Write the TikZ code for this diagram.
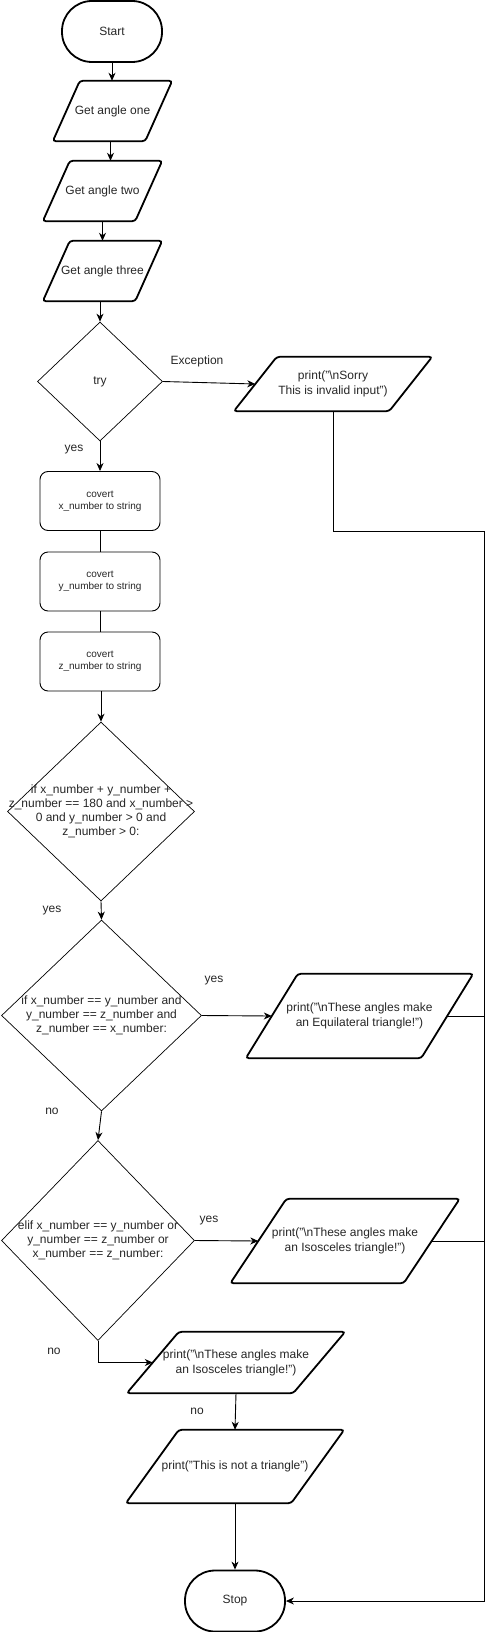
\documentclass[tikz,border=0pt]{standalone}
\usepackage{fontspec}
\setmainfont{Liberation Sans}
\usetikzlibrary{shapes.geometric,arrows.meta,calc}
\newcommand\fs[2]{\fontsize{#1}{#2}\selectfont}
\newcommand\bs{\textbackslash}
\newcommand\para[7]{%
  \node[ptext, minimum width=#4pt, minimum height=#5pt] (#1) at (#2,#3) {#7};
  \draw[pbox] ([xshift=#6pt/2]#1.north west) -- ([xshift=#6pt/2]#1.north east)
     -- ([xshift=-#6pt/2]#1.south east) -- ([xshift=-#6pt/2]#1.south west) -- cycle;}
\tikzset{
  ptext/.style={inner sep=0pt, align=center, font=\fs{12}{15}, text=black!85},
  pbox/.style={line width=1.8pt, rounded corners=3pt},
  term/.style={draw, line width=1.8pt, rounded corners=30pt, minimum width=100pt, minimum height=61pt, inner sep=0pt, font=\fs{12}{14}, text=black!85},
  dia/.style={draw, diamond, line width=0.7pt, inner sep=0pt},
  dtext/.style={align=center, font=\fs{12}{14}, inner sep=0pt, text=black!85},
  cbox/.style={draw, line width=0.9pt, rounded corners=8pt, minimum width=120pt, minimum height=59pt, inner sep=0pt, align=center, font=\fs{10}{12}, text=black!85},
  lbl/.style={font=\fs{12}{14}, inner sep=0pt, text=black!85},
  arr/.style={line width=0.9pt, -{Stealth[length=8pt,width=7pt,inset=2.5pt]}},
  ln/.style={line width=0.9pt}
}
\begin{document}
\begin{tikzpicture}[x=1pt,y=-1pt]
\useasboundingbox (0,0) rectangle (493,1632);
\node[term] (start) at (112,31.5) {Start};
\para{one}{112.5}{111}{92}{60}{27}{Get angle one}
\para{two}{102.5}{191}{92}{60}{27}{Get angle two}
\para{three}{102.5}{271}{92}{60}{27}{Get angle three}
\node[dia, minimum width=125pt, minimum height=119pt] (try) at (100,381.5) {};
\node[dtext] (trytxt) at (try) {try};
\para{sorry}{333}{384}{155}{54}{43}{print("\bs nSorry\\This is invalid input")}
\node[cbox] (b1) at (100,501) {covert\\x\_number to string};
\node[cbox] (b2) at (100,581.5) {covert\\y\_number to string};
\node[cbox] (b3) at (100,661.5) {covert\\z\_number to string};
\node[dia, minimum width=187pt, minimum height=179pt] (d2) at (101,811.5) {};
\node[dtext] (d2txt) at (d2) {if x\_number + y\_number +\\z\_number == 180 and x\_number >\\0 and y\_number > 0 and\\z\_number > 0:};
\node[dia, minimum width=200pt, minimum height=191pt] (d3) at (101.5,1015.5) {};
\node[dtext] (d3txt) at (d3) {if x\_number == y\_number and\\y\_number == z\_number and\\z\_number == x\_number:};
\para{equi}{359.5}{1016}{175}{84}{52}{print("\bs nThese angles make\\an Equilateral triangle!")}
\node[dia, minimum width=193pt, minimum height=200pt] (d4) at (98,1240.5) {};
\node[dtext] (d4txt) at (d4) {elif x\_number == y\_number or\\y\_number == z\_number or\\x\_number == z\_number:};
\para{iso1}{345}{1241}{173}{84}{56}{print("\bs nThese angles make\\an Isosceles triangle!")}
\para{iso2}{236}{1362.5}{166}{61}{52}{print("\bs nThese angles make\\an Isosceles triangle!")}
\para{nt}{235}{1466.5}{165}{73}{53}{print("This is not a triangle")}
\node[term] (stop) at (235,1601) {Stop};
\coordinate (rtop) at (484,531);
\coordinate (rbot) at (484,1601);
% labels
\node[lbl] (lexc) at (197,361) {Exception};
\node[lbl] (ly1) at (74,450) {yes};
\node[lbl] (ly2) at (52,911) {yes};
\node[lbl] (ly3) at (214,981) {yes};
\node[lbl] (ln1) at (52,1111) {no};
\node[lbl] (ly4) at (209,1221) {yes};
\node[lbl] (ln2) at (54,1351) {no};
\node[lbl] (ln3) at (197,1411) {no};
% connectors
\draw[arr] (start.south) -- (start.south |- one.north);
\draw[arr] ([xshift=-2pt]one.south) -- ([xshift=-2pt]one.south |- two.north);
\draw[arr] (two.south) -- (two.south |- three.north);
\draw[arr] (three.south -| try.north) -- (try.north);
\draw[arr] (try.east) -- (sorry.west);
\draw[arr] (try.south) -- (b1.north);
\draw[ln] (b1.south) -- (b2.north);
\draw[ln] (b2.south) -- (b3.north);
\draw[arr] (b3.south -| d2.north) -- (d2.north);
\draw[arr] (d2.south) -- (d3.north);
\draw[arr] (d3.east) -- (equi.west);
\draw[arr] (d3.south) -- (d4.north);
\draw[arr] (d4.east) -- (iso1.west);
\draw[arr] (d4.south) |- (iso2.west);
\draw[arr] (iso2.south) -- (nt.north);
\draw[arr] (nt.south) -- (stop.north);
\draw[ln] (equi.east) -- (equi.east -| rtop);
\draw[ln] (iso1.east) -- (iso1.east -| rtop);
\draw[arr] (sorry.south) |- (rtop) -- (rbot) -- (stop.east);
\end{tikzpicture}
\end{document}
